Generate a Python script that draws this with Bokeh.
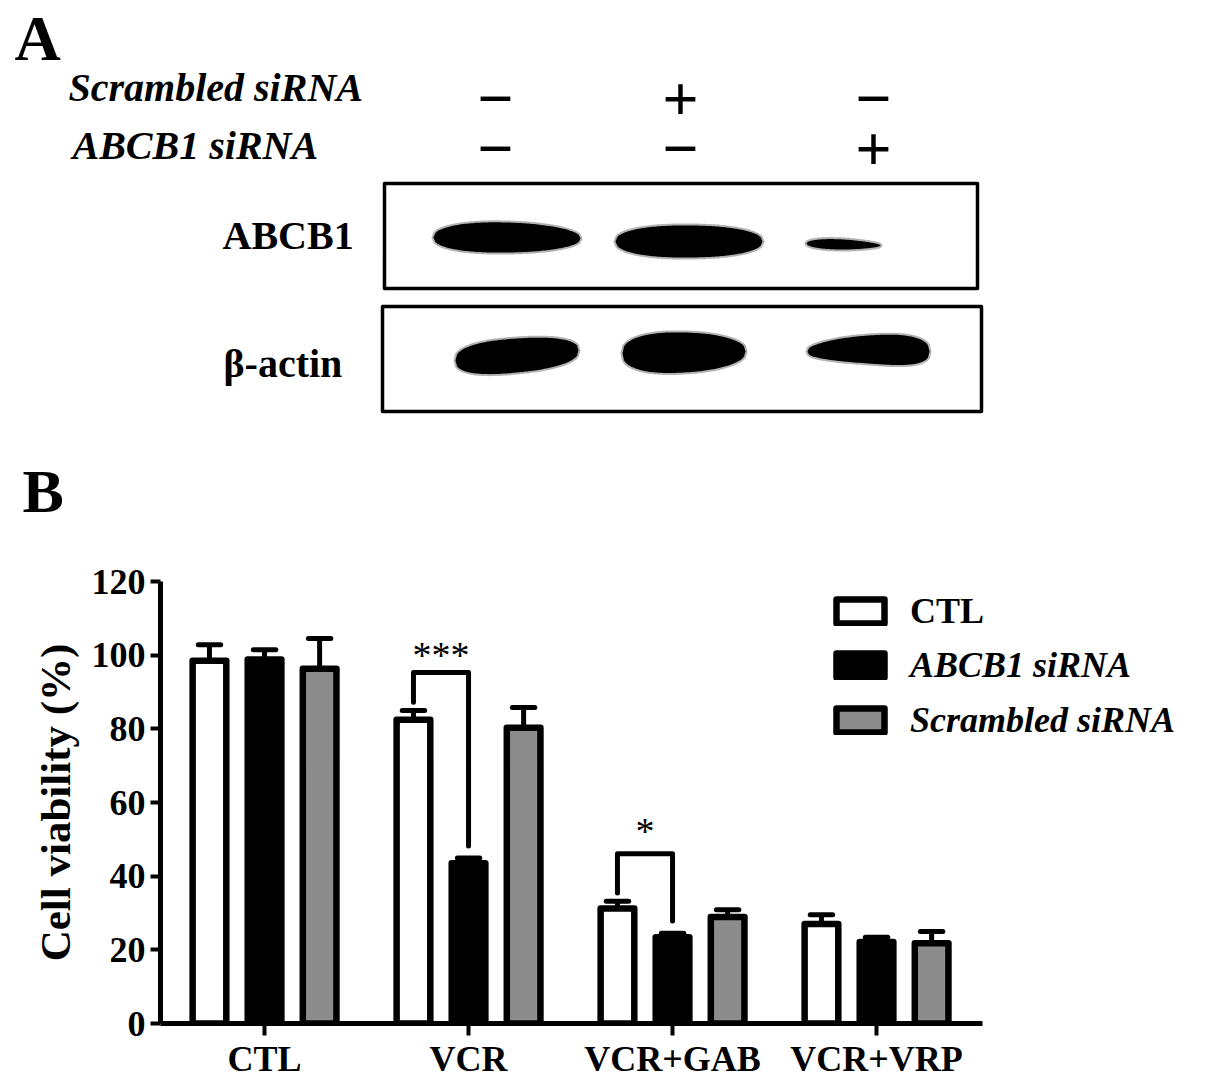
import numpy as np
from bokeh.plotting import figure
from bokeh.models import Range1d, FixedTicker, Legend, LegendItem
from bokeh.layouts import column
from bokeh.embed import file_html
from bokeh.resources import INLINE
from bokeh.core.properties import value

# ---------------- data ----------------
categories = ["CTL", "VCR", "VCR+GAB", "VCR+VRP"]
series_names = ["CTL", "ABCB1 siRNA", "Scrambled siRNA"]
ctl_mean = [98.5, 82.5, 31.2, 27.0]
ctl_sem = [4.3, 2.5, 2.0, 2.5]
abcb1_mean = [98.8, 43.5, 23.4, 22.1]
abcb1_sem = [2.7, 1.4, 1.1, 1.3]
scr_mean = [96.3, 80.3, 28.9, 21.8]
scr_sem = [8.2, 5.5, 2.0, 3.2]
y_ticks = [0, 20, 40, 60, 80, 100, 120]

# significance brackets (CTL vs ABCB1 siRNA within a group)
sig_groups = [1, 2]
sig_labels = ["***", "*"]
sig_tops = [95.3, 46.1]
sig_text_y = [100.0, 52.3]

# western blot panel
scrambled_row = ["\u2212", "+", "\u2212"]
abcb1_row = ["\u2212", "\u2212", "+"]
blot_labels = ["ABCB1", "\u03b2-actin"]

FONT = "Liberation Serif"
GRAY = "#8c8c8c"
W = 1204
H_A = 556
H_B = 528

# ---------------- panel A (pixel space) ----------------
pa = figure(width=W, height=H_A, x_range=Range1d(0, W), y_range=Range1d(H_A, 0),
            output_backend="svg", toolbar_location=None, min_border=0,
            x_axis_location=None, y_axis_location=None)
pa.outline_line_color = None
pa.xgrid.visible = False
pa.ygrid.visible = False
pa.frame_align = False

BASE_SHIFT = 0.37  # em; offset between requested y and rendered alphabetic baseline


def txt(p, x, baseline_y, s, size, style="bold"):
    p.text(x=[x], y=[baseline_y - BASE_SHIFT * size], text=[s], text_font=value(FONT),
           text_font_size=f"{size}px", text_font_style=style, text_align="left",
           text_baseline="alphabetic", text_color="black")


txt(pa, 14, 62, "A", 64)
txt(pa, 68, 102, "Scrambled siRNA", 40, "bold italic")
txt(pa, 72, 160, "ABCB1 siRNA", 40, "bold italic")

lane_x = [495, 680, 873]
row_y = [100, 150]
sign_size = 64
for row, yc in zip([scrambled_row, abcb1_row], row_y):
    pa.text(x=lane_x, y=[yc - 2] * 3, text=row, text_font=value(FONT),
            text_font_size=f"{sign_size}px", text_font_style="bold", text_align="center",
            text_baseline="alphabetic", text_color="black")

# blot frames
pa.quad(left=[384, 382], right=[977, 981], top=[183, 306], bottom=[288, 411],
        fill_color=None, line_color="black", line_width=3.5, line_join="round")


def band_poly(xl, xr, yc, th, p=3.0, n=80):
    """Smooth blot band outline: centre line / thickness given at left, middle, right."""
    t = np.linspace(0, 1, n)

    def quad(v):
        a, b, c = v
        return a * (1 - t) * (1 - 2 * t) + 4 * b * t * (1 - t) + c * t * (2 * t - 1)

    xs = xl + t * (xr - xl)
    ym = quad(yc)
    hh = quad(th) / 2 * (1 - np.abs(2 * t - 1) ** p) ** (1 / p)
    return list(np.concatenate([xs, xs[::-1]])), list(np.concatenate([ym - hh, (ym + hh)[::-1]]))


bands = [
    (433, 580, (237, 237, 238), (31, 30, 25), 2.3),
    (615, 762, (241, 241, 241), (32, 32, 30), 2.3),
    (806, 880, (243, 244, 245), (12, 10, 7), 2.0),
    (455, 578, (360, 355, 350), (34, 34, 30), 2.6),
    (622, 745, (353, 352, 351), (40, 40, 30), 2.6),
    (807, 929, (351, 349, 351), (18, 28, 36), 2.6),
]
bxs, bys = [], []
for xl, xr, yc, th, pw in bands:
    xs, ys = band_poly(xl, xr, yc, th, p=pw)
    bxs.append(xs)
    bys.append(ys)
pa.patches(xs=bxs, ys=bys, fill_color="black", line_color="black", line_alpha=0.3,
           line_width=4, line_join="round")

txt(pa, 222, 250, blot_labels[0], 40)
txt(pa, 223, 378, blot_labels[1], 40)
txt(pa, 22, 513, "B", 62)

# ---------------- panel B (bar chart) ----------------
x = np.arange(len(categories))
offsets = [-0.27, 0.0, 0.27]
bar_w = 0.165
fills = ["white", "black", GRAY]
means = [ctl_mean, abcb1_mean, scr_mean]
sems = [ctl_sem, abcb1_sem, scr_sem]

left_border = 160
px_per_cat = 204.0
x_start = -0.51
x_end = x_start + (W - left_border) / px_per_cat
axis_end = 3.519

pb = figure(width=W, height=H_B, x_range=Range1d(x_start, x_end), y_range=Range1d(0, 120),
            output_backend="svg", toolbar_location=None,
            min_border_left=left_border, min_border_right=0, min_border_top=25,
            min_border_bottom=61)
pb.outline_line_color = None
pb.xgrid.grid_line_color = None
pb.ygrid.grid_line_color = None
pb.frame_align = False

renderers = []
for off, fc, m, s in zip(offsets, fills, means, sems):
    xs = x + off
    tops = np.array(m) + np.array(s)
    pb.segment(x0=xs, y0=m, x1=xs, y1=tops, line_color="black", line_width=5)
    pb.segment(x0=xs - 0.055, y0=tops, x1=xs + 0.055, y1=tops, line_color="black",
               line_width=5, line_cap="round")
    r = pb.vbar(x=xs, top=m, bottom=0, width=bar_w, fill_color=fc, line_color="black",
                line_width=6.5, line_join="round")
    renderers.append(r)

# significance brackets
for g, lab, top, ty in zip(sig_groups, sig_labels, sig_tops, sig_text_y):
    xl = g + offsets[0]
    xr = g + offsets[1]
    yl = ctl_mean[g] + ctl_sem[g] + 2.2
    yr = abcb1_mean[g] + abcb1_sem[g] + 3.3
    pb.line(x=[xl, xl, xr, xr], y=[yl, top, top, yr], line_color="black", line_width=5,
            line_join="round", line_cap="round")
    pb.text(x=[(xl + xr) / 2], y=[ty], text=[lab], text_font=value(FONT),
            text_font_size="38px", text_align="center", text_baseline="alphabetic",
            text_color="black")

# axes
for ax in (pb.xaxis[0], pb.yaxis[0]):
    ax.axis_line_width = 5
    ax.axis_line_color = "black"
    ax.major_tick_line_width = 4
    ax.major_tick_line_color = "black"
    ax.major_tick_in = 0
    ax.minor_tick_line_color = None
    ax.major_label_text_font = FONT
    ax.major_label_text_font_size = "36px"
    ax.major_label_text_font_style = "bold"
    ax.major_label_text_color = "black"

pb.xaxis.ticker = FixedTicker(ticks=[int(i) for i in x])
pb.xaxis.major_label_overrides = {int(i): c for i, c in zip(x, categories)}
pb.xaxis.major_tick_out = 12
pb.xaxis.major_label_standoff = 3
pb.xaxis.bounds = (x_start, axis_end)

pb.yaxis.ticker = FixedTicker(ticks=y_ticks)
pb.yaxis.major_tick_out = 10
pb.yaxis.major_label_standoff = 5
pb.yaxis.axis_label = "Cell viability (%)"
pb.yaxis.axis_label_text_font = FONT
pb.yaxis.axis_label_text_font_size = "43px"
pb.yaxis.axis_label_text_font_style = "bold"
pb.yaxis.axis_label_text_color = "black"
pb.yaxis.axis_label_standoff = 10

leg_common = dict(glyph_width=60, glyph_height=30, label_standoff=20, spacing=13,
                  padding=0, margin=0, border_line_color=None, background_fill_alpha=0,
                  label_text_font=FONT, label_text_font_size="36px", label_text_color="black")
leg1 = Legend(items=[LegendItem(label=series_names[0], renderers=[renderers[0]])],
              location=(670, 391), label_text_font_style="bold", **leg_common)
leg2 = Legend(items=[LegendItem(label=series_names[1], renderers=[renderers[1]]),
                     LegendItem(label=series_names[2], renderers=[renderers[2]])],
              location=(670, 282), label_text_font_style="bold italic", **leg_common)
pb.add_layout(leg1)
pb.add_layout(leg2)

layout = column(pa, pb, spacing=0)
open("out.html", "w").write(file_html(layout, INLINE))
